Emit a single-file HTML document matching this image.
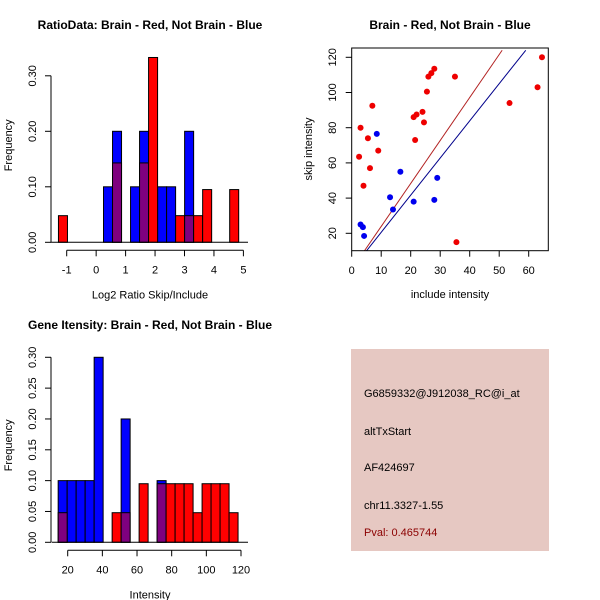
<!DOCTYPE html>
<html><head><meta charset="utf-8"><style>
body{margin:0;background:#fff}
svg{display:block;font-family:"Liberation Sans",sans-serif}
</style></head><body>
<svg id="s" width="600" height="600" xmlns="http://www.w3.org/2000/svg">
<rect width="600" height="600" fill="#fff"/>
<g id="info">
<rect x="351" y="349" width="198" height="202" fill="#E6C8C2"/>
<text x="364" y="397" font-size="11">G6859332@J912038_RC@i_at</text>
<text x="364" y="435" font-size="11">altTxStart</text>
<text x="364" y="471" font-size="11">AF424697</text>
<text x="364" y="509" font-size="11">chr11.3327-1.55</text>
<text x="364" y="536" font-size="11" fill="#8B0000">Pval: 0.465744</text>
</g>
</svg>
<script>
// Histogram 1 (log2 ratio)
const h1BinStart=-1.28, h1BinWidth=0.306;
const h1BlueBins=[5,6,8,9,11,12,14];
const h1BlueVals=[0.1,0.2,0.1,0.2,0.1,0.1,0.2];
const h1RedBins=[0,6,9,10,13,14,15,16,19];
const h1RedVals=[0.048,0.143,0.143,0.333,0.048,0.048,0.048,0.095,0.095];
const h1XTicks=[-1,0,1,2,3,4,5];
const h1YTicks=[0,0.1,0.2,0.3];
// Histogram 2 (intensity)
const h2BinStart=14.5, h2BinWidth=5.19;
const h2BlueBins=[0,1,2,3,4,7,11];
const h2BlueVals=[0.1,0.1,0.1,0.1,0.3,0.2,0.1];
const h2RedBins=[0,6,7,9,11,12,13,14,15,16,17,18,19];
const h2RedVals=[0.048,0.048,0.048,0.095,0.095,0.095,0.095,0.095,0.048,0.095,0.095,0.095,0.048];
const h2XTicks=[20,40,60,80,100,120];
const h2YTicks=[0,0.05,0.1,0.15,0.2,0.25,0.3];
// Scatter
const redX=[2.5,3,4,5.5,6.2,7,9,21,22,21.5,24,24.5,25.5,26,27,28,35,35.5,53.5,63,64.5];
const redY=[63.5,80,47,74,57,92.5,67,86,87.5,73,89,83,100.5,109,111,113.5,109,15,94,103,120];
const blueX=[3,3.8,4.2,8.5,13,14,16.5,21,28,29];
const blueY=[25,23.5,18.5,76.5,40.5,33.5,55,38,39,51.5];
const redLine=[[4.3,10],[51,124]];
const blueLine=[[5,10],[59,124]];
const scXTicks=[0,10,20,30,40,50,60];
const scYTicks=[20,40,60,80,100,120];

const NS="http://www.w3.org/2000/svg", S=document.getElementById('s');
function mk(tag,at,parent,txt){const e=document.createElementNS(NS,tag);for(const k in at)e.setAttribute(k,at[k]);if(txt!=null)e.textContent=txt;(parent||S).appendChild(e);return e;}

function hist(o){
  const g=mk('g',{});
  
  
  const X=v=>o.x0+(v-o.xv0)*o.xs, Y=v=>o.y0-v*o.ys;
  const bx=k=>X(o.bs+k*o.bw);
  const w=o.bw*o.xs;
  o.bb.forEach((k,i)=>{const r=mk('rect',{x:bx(k),y:Y(o.bv[i]),width:w,height:o.bv[i]*o.ys,fill:'#0000FF',stroke:'#000','stroke-width':1},g);
    });
  o.rb.forEach((k,i)=>{const j=o.bb.indexOf(k);const bv=j>=0?o.bv[j]:0;const rv=o.rv[i];
    if(rv>bv){const r=mk('rect',{x:bx(k),y:Y(rv),width:w,height:rv*o.ys,fill:'#FF0000',stroke:'#000','stroke-width':1},g);
      }
    const m=Math.min(rv,bv);
    if(m>0){const r=mk('rect',{x:bx(k),y:Y(m),width:w,height:m*o.ys,fill:'#7F007F',stroke:'#000','stroke-width':1},g);
      }
  });
  mk('line',{x1:o.x0-16+o.axL,x2:o.axR,y1:o.y0,y2:o.y0,stroke:'#000'},g);
  const xa=o.y0+8;
  mk('line',{x1:X(o.xt[0]),x2:X(o.xt[o.xt.length-1]),y1:xa,y2:xa,stroke:'#000'},g);
  o.xt.forEach(t=>{mk('line',{x1:X(t),x2:X(t),y1:xa,y2:xa+6,stroke:'#000'},g);
    const l=mk('text',{x:X(t),y:xa+23,'font-size':11,'text-anchor':'middle'},g,String(t));
    });
  mk('line',{x1:51,x2:51,y1:Y(0),y2:Y(o.yt[o.yt.length-1]),stroke:'#000'},g);
  o.yt.forEach(t=>{mk('line',{x1:45,x2:51,y1:Y(t),y2:Y(t),stroke:'#000'},g);
    const l=mk('text',{x:0,y:0,'font-size':11,'text-anchor':'middle',transform:`translate(36,${Y(t)}) rotate(-90)`},g,t.toFixed(2));
    });
  const yl=mk('text',{'font-size':11,'text-anchor':'middle',transform:`translate(12,${o.y0-97}) rotate(-90)`},g,'Frequency');
  
  const xl=mk('text',{x:150,y:o.y0+56,'font-size':11,'text-anchor':'middle'},g,o.xlab);
  
  const ti=mk('text',{x:150,y:o.ty,'font-size':12,'font-weight':'bold','text-anchor':'middle'},g,o.title);
  
}
hist({name:'ratio-histogram',x0:66.7,xv0:-1,xs:29.45,y0:242.3,ys:555,bs:h1BinStart,bw:h1BinWidth,
  bb:h1BlueBins,bv:h1BlueVals,rb:h1RedBins,rv:h1RedVals,xt:h1XTicks,yt:h1YTicks,axL:0,axR:248,
  xlab:'Log2 Ratio Skip/Include',title:'RatioData: Brain - Red, Not Brain - Blue',ty:29});
hist({name:'intensity-histogram',x0:67.7,xv0:20,xs:1.733,y0:542.3,ys:616.7,bs:h2BinStart,bw:h2BinWidth,
  bb:h2BlueBins,bv:h2BlueVals,rb:h2RedBins,rv:h2RedVals,xt:h2XTicks,yt:h2YTicks,axL:0,axR:248,
  xlab:'Intensity',title:'Gene Itensity: Brain - Red, Not Brain - Blue',ty:329});

(function(){
  const g=mk('g',{});
  
  
  const X=v=>351.7+v*2.95, Y=v=>233.3-(v-20)*1.76;
  const cp=mk('clipPath',{id:'cp'},g);mk('rect',{x:351.7,y:48,width:196.6,height:202.7},cp);
  [[redLine,'#B22222','red-fit-line'],[blueLine,'#00008B','blue-fit-line']].forEach(([L,c,n])=>{
    const l=mk('line',{x1:X(L[0][0]),y1:Y(L[0][1]),x2:X(L[1][0]),y2:Y(L[1][1]),stroke:c,'stroke-width':1,'clip-path':'url(#cp)'},g);
    });
  redX.forEach((x,i)=>{const c=mk('circle',{cx:X(x),cy:Y(redY[i]),r:3,fill:'#EE0000'},g);
    });
  blueX.forEach((x,i)=>{const c=mk('circle',{cx:X(x),cy:Y(blueY[i]),r:3,fill:'#0000EE'},g);
    });
  mk('rect',{x:351.7,y:48,width:196.6,height:202.7,fill:'none',stroke:'#000'},g);
  scXTicks.forEach(t=>{mk('line',{x1:X(t),x2:X(t),y1:250.7,y2:256.7,stroke:'#000'},g);
    const l=mk('text',{x:X(t),y:274,'font-size':11,'text-anchor':'middle'},g,String(t));
    });
  scYTicks.forEach(t=>{mk('line',{x1:345.7,x2:351.7,y1:Y(t),y2:Y(t),stroke:'#000'},g);
    const l=mk('text',{'font-size':11,'text-anchor':'middle',transform:`translate(336,${Y(t)}) rotate(-90)`},g,String(t));
    });
  const xl=mk('text',{x:450,y:298,'font-size':11,'text-anchor':'middle'},g,'include intensity');
  
  const yl=mk('text',{'font-size':11,'text-anchor':'middle',transform:'translate(312,149) rotate(-90)'},g,'skip intensity');
  
  const ti=mk('text',{x:450,y:29,'font-size':12,'font-weight':'bold','text-anchor':'middle'},g,'Brain - Red, Not Brain - Blue');
  
})();
</script>
</body></html>
